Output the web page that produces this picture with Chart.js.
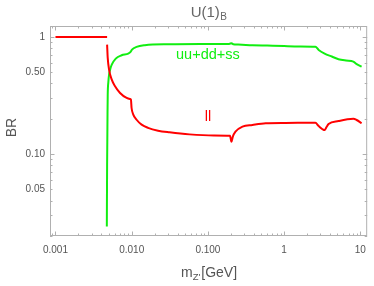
<!DOCTYPE html>
<html><head><meta charset="utf-8">
<script src="https://cdn.jsdelivr.net/npm/chart.js@4"></script>
<style>html,body{margin:0;padding:0;background:#fff}</style>
</head><body>
<canvas id="c" width="374" height="286" style="width:374px;height:286px;display:block"></canvas>
<script>
// ---- data ----
const llMass = [0.001, 0.00476, 0.004762, 0.00476, 0.00485, 0.00505, 0.00548, 0.00605, 0.00704, 0.00859, 0.00948, 0.00978, 0.00997, 0.0105, 0.0116, 0.0135, 0.0164, 0.0222, 0.0314, 0.0574, 0.12, 0.195, 0.204, 0.212, 0.23, 0.284, 0.384, 0.573, 1.045, 2.57, 2.84, 3.4, 3.6, 3.83, 5.17, 8.1, 8.95, 10.4];
const llBR   = [1, 1, null, 0.859, 0.662, 0.526, 0.432, 0.379, 0.332, 0.301, 0.295, 0.291, 0.247, 0.217, 0.196, 0.178, 0.167, 0.158, 0.153, 0.147, 0.144, 0.143, 0.127, 0.14, 0.155, 0.171, 0.177, 0.183, 0.184, 0.185, 0.173, 0.16, 0.17, 0.18, 0.191, 0.2, 0.195, 0.183];

const hadMass = [0.00472, 0.00476, 0.00479, 0.00482, 0.00485, 0.00494, 0.00505, 0.00525, 0.00548, 0.00618, 0.00739, 0.0090, 0.00967, 0.0101, 0.0116, 0.0149, 0.0314, 0.08, 0.14, 0.19, 0.205, 0.215, 0.25, 0.384, 0.6, 1.0, 1.6, 2.57, 2.84, 3.4, 4.23, 5.17, 6.5, 8.1, 8.95, 10.4];
const hadBR   = [0.024, 0.08, 0.13, 0.22, 0.32, 0.41, 0.476, 0.535, 0.58, 0.653, 0.698, 0.72, 0.744, 0.779, 0.822, 0.849, 0.866, 0.87, 0.87, 0.872, 0.885, 0.866, 0.86, 0.85, 0.843, 0.835, 0.83, 0.826, 0.774, 0.72, 0.68, 0.645, 0.628, 0.615, 0.585, 0.557];

const xTickValues = [0.001, 0.01, 0.1, 1, 10];
const xTickLabels = ['0.001', '0.010', '0.100', '1', '10'];
const yTickValues = [0.05, 0.1, 0.5, 1];
const yTickLabels = ['0.05', '0.10', '0.50', '1'];

const seriesNames = ['ll', 'uu+dd+ss'];
const labelPosX = [0.1, 0.1];
const labelPosY = [0.207, 0.70];

const RED = '#ff0000', GREEN = '#11ee11';
const FONT = '"Liberation Sans", Arial, sans-serif';

const framePlugin = {
  id: 'frame',
  beforeDatasetsDraw(chart) {
    const {ctx, chartArea: a, scales: {x, y}} = chart;
    ctx.save();
    ctx.strokeStyle = '#b0b0b0';
    ctx.lineWidth = 1;
    ctx.strokeRect(a.left + 0.5, a.top + 0.5, a.right - a.left - 1, a.bottom - a.top - 1);
    ctx.beginPath();
    for (let d = -4; d <= 2; d++) {
      for (let m = 1; m <= 9; m++) {
        const v = m * Math.pow(10, d);
        const len = m === 1 ? 4.5 : 2.5;
        if (v >= x.min && v <= x.max) {
          const px = Math.round(x.getPixelForValue(v)) + 0.5;
          ctx.moveTo(px, a.bottom); ctx.lineTo(px, a.bottom - len);
          ctx.moveTo(px, a.top); ctx.lineTo(px, a.top + len);
        }
        if (v >= y.min && v <= y.max) {
          const py = Math.round(y.getPixelForValue(v)) + 0.5;
          ctx.moveTo(a.left, py); ctx.lineTo(a.left + len, py);
          ctx.moveTo(a.right, py); ctx.lineTo(a.right - len, py);
        }
      }
    }
    ctx.stroke();
    ctx.restore();
  },
  afterDraw(chart) {
    const {ctx, chartArea: a, scales: {x, y}} = chart;
    ctx.save();
    ctx.textBaseline = 'alphabetic';
    ctx.textAlign = 'left';
    // title U(1)_B
    ctx.fillStyle = '#666';
    ctx.font = '15px ' + FONT;
    const w1 = ctx.measureText('U(1)').width;
    ctx.font = '10px ' + FONT;
    const w2 = ctx.measureText('B').width;
    const tx = (a.left + a.right) / 2 - (w1 + w2) / 2;
    ctx.font = '15px ' + FONT;
    ctx.fillText('U(1)', tx, 17);
    ctx.font = '10px ' + FONT;
    ctx.fillText('B', tx + w1 + 0.5, 20);
    // x title m_Z' [GeV]
    ctx.fillStyle = '#555';
    ctx.font = '14px ' + FONT;
    const wm = ctx.measureText('m').width;
    const wg = ctx.measureText('[GeV]').width;
    ctx.font = '9.5px ' + FONT;
    const wz = ctx.measureText("Z'").width;
    const xx = 209 - (wm + wz + wg + 1) / 2;
    ctx.font = '14px ' + FONT;
    ctx.fillText('m', xx, 277);
    ctx.font = '9.5px ' + FONT;
    ctx.fillText("Z'", xx + wm, 280);
    ctx.font = '14px ' + FONT;
    ctx.fillText('[GeV]', xx + wm + wz + 1, 277);
    // y title
    ctx.save();
    ctx.translate(12.5, 127.5);
    ctx.rotate(-Math.PI / 2);
    ctx.textAlign = 'center';
    ctx.textBaseline = 'middle';
    ctx.font = '14px ' + FONT;
    ctx.fillText('BR', 0, 0);
    ctx.restore();
    // curve labels
    ctx.textAlign = 'center';
    ctx.textBaseline = 'middle';
    ctx.font = '14.5px ' + FONT;
    const cols = [RED, GREEN];
    seriesNames.forEach((n, i) => {
      ctx.fillStyle = cols[i];
      ctx.fillText(n, x.getPixelForValue(labelPosX[i]), y.getPixelForValue(labelPosY[i]));
    });
    ctx.restore();
  }
};

new Chart(document.getElementById('c'), {
  type: 'line',
  data: {
    datasets: [
      {label: seriesNames[0], data: llMass.map((m, i) => ({x: m, y: llBR[i]})), borderColor: RED, borderWidth: 2, pointRadius: 0, spanGaps: false, cubicInterpolationMode: 'monotone'},
      {label: seriesNames[1], data: hadMass.map((m, i) => ({x: m, y: hadBR[i]})), borderColor: GREEN, borderWidth: 2, pointRadius: 0, cubicInterpolationMode: 'monotone'}
    ]
  },
  options: {
    responsive: false,
    animation: false,
    devicePixelRatio: 1,
    layout: {padding: {left: 0, right: 5, top: 26, bottom: 0}},
    plugins: {legend: {display: false}, tooltip: {enabled: false}, title: {display: false}},
    scales: {
      x: {
        type: 'logarithmic', min: 0.000848, max: 12.3,
        grid: {display: false, drawTicks: false}, border: {display: false},
        afterBuildTicks: s => { s.ticks = xTickValues.map(v => ({value: v})); },
        afterFit: s => { s.height = 50; },
        ticks: {autoSkip: false, maxRotation: 0, minRotation: 0, padding: 8, color: '#555',
          font: {family: FONT, size: 10}, callback: (v, i) => xTickLabels[i]}
      },
      y: {
        type: 'logarithmic', min: 0.0199, max: 1.24,
        grid: {display: false, drawTicks: false}, border: {display: false},
        afterBuildTicks: s => { s.ticks = yTickValues.map(v => ({value: v})); },
        afterFit: s => { s.width = 50; },
        ticks: {autoSkip: false, padding: 5, color: '#555',
          font: {family: FONT, size: 10}, callback: (v, i) => yTickLabels[i]}
      }
    }
  },
  plugins: [framePlugin]
});
</script>
</body></html>
